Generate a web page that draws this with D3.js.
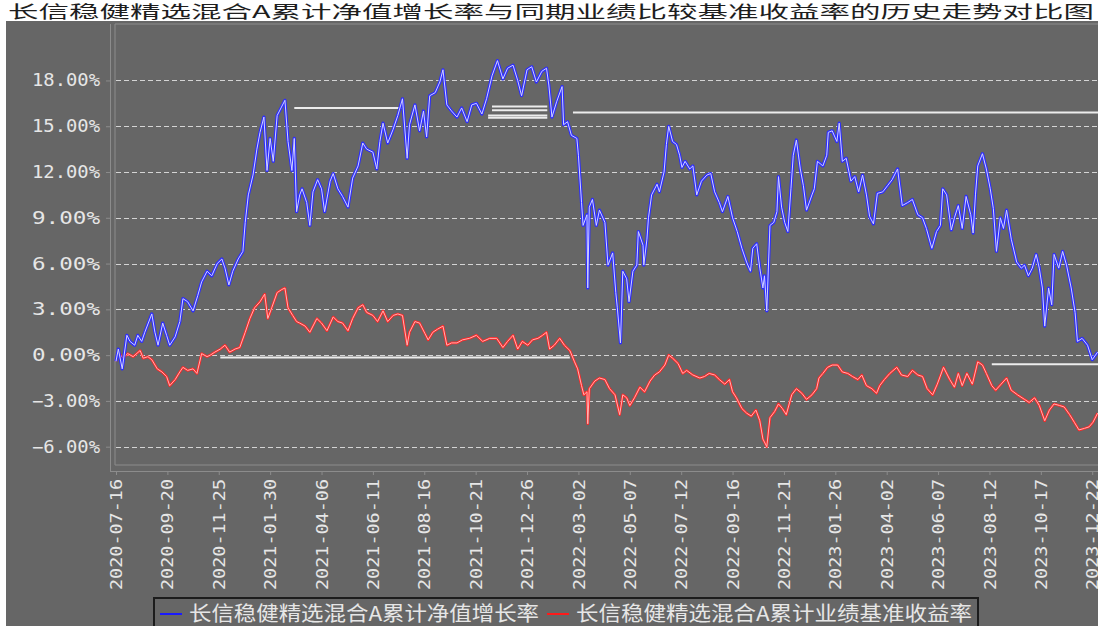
<!DOCTYPE html>
<html>
<head>
<meta charset="utf-8">
<script src="https://cdn.jsdelivr.net/npm/d3@7"></script>
<style>
  body { margin: 0; background: #fff; }
  svg { display: block; }
</style>
</head>
<body>
<svg id="chart" width="1098" height="626"></svg>
<script>
const titleText = "长信稳健精选混合A累计净值增长率与同期业绩比较基准收益率的历史走势对比图";
const seriesNames = ["长信稳健精选混合A累计净值增长率", "长信稳健精选混合A累计业绩基准收益率"];

const yTicks = [18, 15, 12, 9, 6, 3, 0, -3, -6];
const yTickLabels = ["18.00%", "15.00%", "12.00%", "9.00%", "6.00%", "3.00%", "0.00%", "−3.00%", "−6.00%"];
const xTickLabels = ["2020-07-16", "2020-09-20", "2020-11-25", "2021-01-30", "2021-04-06", "2021-06-11",
    "2021-08-16", "2021-10-21", "2021-12-26", "2022-03-02", "2022-05-07", "2022-07-12", "2022-09-16",
    "2022-11-21", "2023-01-26", "2023-04-02", "2023-06-07", "2023-08-12", "2023-10-17", "2023-12-22"];

// 累计净值增长率 (%)
const navGrowth = [["2020-07-16",-0.4],["2020-07-19",0.4],["2020-07-24",-0.9],["2020-07-30",1.3],["2020-08-03",0.9],["2020-08-09",0.65],["2020-08-13",1.3],["2020-08-18",0.9],["2020-08-22",1.5],["2020-08-31",2.7],["2020-09-04",1.5],["2020-09-08",0.65],["2020-09-14",2.1],["2020-09-19",1.3],["2020-09-23",0.65],["2020-09-30",1.2],["2020-10-06",2.2],["2020-10-10",3.7],["2020-10-16",3.5],["2020-10-23",2.9],["2020-10-29",3.9],["2020-11-03",4.8],["2020-11-10",5.5],["2020-11-16",5.2],["2020-11-23",6.0],["2020-11-29",6.3],["2020-12-03",5.7],["2020-12-08",4.6],["2020-12-13",5.5],["2020-12-20",6.3],["2020-12-26",6.8],["2020-12-29",8.7],["2021-01-02",10.5],["2021-01-08",11.8],["2021-01-13",13.5],["2021-01-17",14.6],["2021-01-22",15.6],["2021-01-26",12.1],["2021-01-30",14.2],["2021-02-03",12.7],["2021-02-08",15.7],["2021-02-13",16.2],["2021-02-18",16.7],["2021-02-22",14.0],["2021-02-27",12.1],["2021-03-02",14.2],["2021-03-05",9.4],["2021-03-09",10.5],["2021-03-12",10.9],["2021-03-16",10.3],["2021-03-18",10.0],["2021-03-22",8.5],["2021-03-26",10.7],["2021-04-01",11.5],["2021-04-06",10.9],["2021-04-10",9.4],["2021-04-17",11.4],["2021-04-21",11.9],["2021-04-27",10.9],["2021-05-03",10.4],["2021-05-10",9.7],["2021-05-16",11.6],["2021-05-23",12.4],["2021-05-29",13.9],["2021-06-03",13.5],["2021-06-11",13.3],["2021-06-16",12.2],["2021-06-20",14.0],["2021-06-24",15.2],["2021-06-30",13.9],["2021-07-07",14.8],["2021-07-13",15.7],["2021-07-19",16.8],["2021-07-25",12.9],["2021-07-28",15.1],["2021-08-04",16.4],["2021-08-10",14.7],["2021-08-15",16.0],["2021-08-19",14.3],["2021-08-23",17.0],["2021-08-30",17.2],["2021-09-05",17.9],["2021-09-09",18.7],["2021-09-14",16.4],["2021-09-20",16.0],["2021-09-27",15.6],["2021-10-03",16.2],["2021-10-10",15.3],["2021-10-16",16.4],["2021-10-22",16.5],["2021-10-29",15.8],["2021-11-04",16.8],["2021-11-11",18.3],["2021-11-18",19.3],["2021-11-25",18.1],["2021-12-01",18.8],["2021-12-08",19.0],["2021-12-14",18.0],["2021-12-19",17.0],["2021-12-26",18.7],["2022-01-01",18.9],["2022-01-07",17.9],["2022-01-14",18.6],["2022-01-20",18.8],["2022-01-23",17.7],["2022-01-27",15.6],["2022-02-02",16.6],["2022-02-09",17.6],["2022-02-11",15.1],["2022-02-16",15.3],["2022-02-21",14.4],["2022-02-28",14.2],["2022-03-02",13.1],["2022-03-06",10.0],["2022-03-08",8.5],["2022-03-13",9.2],["2022-03-14",4.4],["2022-03-16",9.7],["2022-03-20",10.2],["2022-03-25",8.5],["2022-03-29",9.5],["2022-04-05",8.7],["2022-04-09",5.9],["2022-04-15",6.7],["2022-04-19",4.1],["2022-04-21",3.1],["2022-04-25",0.8],["2022-04-28",5.5],["2022-05-03",5.0],["2022-05-06",3.5],["2022-05-11",5.5],["2022-05-16",5.9],["2022-05-18",8.1],["2022-05-24",7.2],["2022-05-25",5.9],["2022-05-29",7.6],["2022-05-31",9.0],["2022-06-04",10.5],["2022-06-11",11.2],["2022-06-14",10.7],["2022-06-20",12.0],["2022-06-23",13.8],["2022-06-26",15.0],["2022-07-01",14.0],["2022-07-06",13.8],["2022-07-10",13.1],["2022-07-13",12.3],["2022-07-17",12.7],["2022-07-23",12.2],["2022-07-27",12.4],["2022-08-01",10.5],["2022-08-07",11.4],["2022-08-14",11.8],["2022-08-19",11.9],["2022-08-24",10.7],["2022-08-30",10.0],["2022-09-03",9.4],["2022-09-10",10.4],["2022-09-16",9.0],["2022-09-22",8.1],["2022-09-28",7.0],["2022-10-04",6.1],["2022-10-09",5.5],["2022-10-12",7.0],["2022-10-17",7.3],["2022-10-21",5.7],["2022-10-25",4.4],["2022-10-27",5.2],["2022-10-30",2.9],["2022-11-03",8.5],["2022-11-08",8.7],["2022-11-12",9.4],["2022-11-14",11.7],["2022-11-18",9.7],["2022-11-22",8.7],["2022-11-26",8.1],["2022-11-30",10.9],["2022-12-03",13.1],["2022-12-07",14.1],["2022-12-12",12.2],["2022-12-16",11.1],["2022-12-20",9.5],["2022-12-27",10.5],["2022-12-30",10.9],["2023-01-03",12.7],["2023-01-10",12.4],["2023-01-15",13.1],["2023-01-17",14.6],["2023-01-22",14.7],["2023-01-28",14.0],["2023-01-31",15.2],["2023-02-04",12.7],["2023-02-09",12.9],["2023-02-15",11.4],["2023-02-20",11.7],["2023-02-25",10.7],["2023-03-02",11.8],["2023-03-07",10.5],["2023-03-11",9.1],["2023-03-16",8.6],["2023-03-21",10.6],["2023-03-28",10.7],["2023-04-03",11.1],["2023-04-09",11.5],["2023-04-16",12.2],["2023-04-22",9.8],["2023-04-29",10.0],["2023-05-05",10.2],["2023-05-12",9.2],["2023-05-18",9.0],["2023-05-23",8.3],["2023-05-30",7.0],["2023-06-05",8.1],["2023-06-10",8.5],["2023-06-13",10.9],["2023-06-18",10.5],["2023-06-24",8.2],["2023-06-28",9.0],["2023-07-03",9.8],["2023-07-08",8.3],["2023-07-13",10.4],["2023-07-19",9.2],["2023-07-22",8.0],["2023-07-25",10.5],["2023-07-28",12.4],["2023-08-03",13.2],["2023-08-08",12.2],["2023-08-13",10.9],["2023-08-17",9.6],["2023-08-21",6.8],["2023-08-26",9.0],["2023-08-30",8.3],["2023-09-03",9.5],["2023-09-09",7.6],["2023-09-16",6.1],["2023-09-22",5.7],["2023-09-26",5.9],["2023-10-01",5.2],["2023-10-06",5.7],["2023-10-11",6.6],["2023-10-15",5.7],["2023-10-19",4.4],["2023-10-22",1.9],["2023-10-27",4.4],["2023-10-31",3.3],["2023-11-03",6.6],["2023-11-09",5.7],["2023-11-14",6.8],["2023-11-19",5.9],["2023-11-25",4.4],["2023-11-30",2.8],["2023-12-03",0.9],["2023-12-09",1.1],["2023-12-16",0.65],["2023-12-22",-0.3],["2023-12-29",0.2]];

// 业绩比较基准收益率 (%)
const benchmark = [["2020-07-16",-0.4],["2020-07-19",0.2],["2020-07-25",-0.2],["2020-07-31",0.1],["2020-08-07",-0.1],["2020-08-16",0.3],["2020-08-20",-0.2],["2020-08-26",-0.1],["2020-08-31",-0.3],["2020-09-07",-0.9],["2020-09-13",-1.1],["2020-09-19",-1.4],["2020-09-23",-2.0],["2020-09-30",-1.6],["2020-10-06",-1.1],["2020-10-10",-0.8],["2020-10-16",-1.0],["2020-10-23",-0.9],["2020-10-28",-1.2],["2020-11-03",0.1],["2020-11-10",-0.1],["2020-11-14",0.0],["2020-11-20",0.2],["2020-11-27",0.4],["2020-12-03",0.65],["2020-12-09",0.2],["2020-12-16",0.4],["2020-12-22",0.5],["2020-12-29",1.5],["2021-01-04",2.4],["2021-01-10",3.1],["2021-01-17",3.5],["2021-01-23",4.0],["2021-01-27",2.4],["2021-02-01",3.1],["2021-02-08",4.1],["2021-02-14",4.3],["2021-02-18",4.4],["2021-02-22",3.1],["2021-02-28",2.6],["2021-03-05",2.2],["2021-03-09",2.1],["2021-03-16",1.9],["2021-03-22",1.5],["2021-03-31",2.4],["2021-04-06",2.1],["2021-04-13",1.6],["2021-04-21",2.5],["2021-04-27",2.2],["2021-05-03",2.1],["2021-05-10",1.6],["2021-05-16",2.4],["2021-05-23",3.1],["2021-05-29",3.3],["2021-06-03",2.8],["2021-06-11",2.6],["2021-06-17",2.2],["2021-06-24",2.9],["2021-06-30",2.2],["2021-07-07",2.6],["2021-07-13",2.7],["2021-07-19",2.6],["2021-07-25",0.65],["2021-07-28",1.5],["2021-08-04",2.2],["2021-08-10",2.1],["2021-08-17",1.4],["2021-08-21",1.0],["2021-08-27",1.5],["2021-09-02",1.7],["2021-09-09",1.9],["2021-09-14",0.65],["2021-09-20",0.8],["2021-09-27",0.8],["2021-10-04",1.0],["2021-10-13",1.1],["2021-10-22",1.3],["2021-10-30",0.9],["2021-11-08",1.1],["2021-11-17",1.1],["2021-11-25",0.5],["2021-12-01",0.9],["2021-12-08",1.3],["2021-12-14",0.4],["2021-12-20",0.9],["2021-12-27",0.65],["2022-01-02",1.0],["2022-01-09",1.1],["2022-01-15",1.3],["2022-01-20",1.5],["2022-01-24",0.4],["2022-01-30",0.65],["2022-02-06",1.1],["2022-02-12",0.65],["2022-02-19",0.3],["2022-02-25",-0.44],["2022-03-01",-0.9],["2022-03-06",-2.0],["2022-03-09",-2.6],["2022-03-13",-2.4],["2022-03-14",-4.5],["2022-03-16",-2.2],["2022-03-23",-1.7],["2022-03-29",-1.5],["2022-04-05",-1.6],["2022-04-11",-2.2],["2022-04-18",-2.6],["2022-04-24",-3.9],["2022-04-28",-2.6],["2022-05-03",-2.8],["2022-05-07",-3.3],["2022-05-13",-2.8],["2022-05-20",-2.1],["2022-05-26",-2.4],["2022-06-02",-1.7],["2022-06-08",-1.3],["2022-06-14",-1.1],["2022-06-21",-0.65],["2022-06-26",0.0],["2022-07-01",-0.2],["2022-07-08",-0.55],["2022-07-14",-1.2],["2022-07-19",-1.0],["2022-07-27",-1.3],["2022-08-05",-1.5],["2022-08-11",-1.4],["2022-08-17",-1.2],["2022-08-24",-1.3],["2022-08-30",-1.6],["2022-09-06",-1.9],["2022-09-12",-1.6],["2022-09-16",-2.4],["2022-09-21",-2.8],["2022-09-28",-3.5],["2022-10-04",-3.8],["2022-10-10",-4.0],["2022-10-16",-3.6],["2022-10-21",-4.3],["2022-10-25",-5.5],["2022-10-30",-6.0],["2022-11-03",-4.1],["2022-11-09",-3.7],["2022-11-14",-3.2],["2022-11-19",-3.5],["2022-11-24",-3.9],["2022-12-01",-2.6],["2022-12-07",-2.2],["2022-12-14",-2.5],["2022-12-20",-2.9],["2022-12-27",-2.6],["2023-01-02",-2.2],["2023-01-05",-1.5],["2023-01-10",-1.2],["2023-01-16",-0.8],["2023-01-22",-0.65],["2023-01-29",-0.65],["2023-02-04",-1.1],["2023-02-11",-1.2],["2023-02-17",-1.4],["2023-02-24",-1.6],["2023-03-01",-1.3],["2023-03-07",-2.0],["2023-03-14",-2.2],["2023-03-20",-2.5],["2023-03-24",-2.0],["2023-03-30",-1.6],["2023-04-06",-1.2],["2023-04-15",-0.8],["2023-04-21",-1.3],["2023-04-29",-1.4],["2023-05-05",-1.0],["2023-05-12",-1.3],["2023-05-18",-1.4],["2023-05-24",-2.2],["2023-05-31",-2.6],["2023-06-06",-1.9],["2023-06-14",-0.8],["2023-06-22",-1.6],["2023-06-28",-2.1],["2023-07-03",-1.2],["2023-07-08",-2.0],["2023-07-14",-1.2],["2023-07-21",-1.9],["2023-07-28",-0.44],["2023-08-03",-0.65],["2023-08-08",-1.2],["2023-08-15",-2.0],["2023-08-20",-2.3],["2023-08-27",-1.9],["2023-09-03",-1.5],["2023-09-09",-2.3],["2023-09-17",-2.6],["2023-09-26",-2.9],["2023-10-02",-3.1],["2023-10-09",-2.8],["2023-10-15",-3.3],["2023-10-22",-4.3],["2023-10-28",-3.6],["2023-11-03",-3.2],["2023-11-10",-3.3],["2023-11-16",-3.4],["2023-11-23",-3.9],["2023-11-29",-4.4],["2023-12-05",-4.9],["2023-12-12",-4.8],["2023-12-18",-4.7],["2023-12-23",-4.4],["2023-12-29",-3.8]];

// flat white segments visible in the picture: [from, to, level %]
const flatLines = [
    ["2021-03-02", "2021-07-18", 16.2],
    ["2021-11-11", "2022-01-21", 16.3],
    ["2021-11-11", "2022-01-21", 16.05],
    ["2021-11-06", "2022-01-21", 15.7],
    ["2021-11-06", "2022-01-21", 15.55],
    ["2022-02-23", "2024-01-05", 15.9],
    ["2020-11-27", "2022-02-19", -0.16],
    ["2023-08-15", "2024-01-05", -0.6]
];

const parseDate = d3.timeParse("%Y-%m-%d");
const svg = d3.select("#chart");
const W = 1098, H = 626;

const plotLeft = 116, plotRight = 1100, plotTop = 24, plotBottom = 465;

const x = d3.scaleTime()
    .domain([parseDate("2020-07-16"), parseDate("2024-01-01")])
    .range([plotLeft, plotRight]);
const y = d3.scaleLinear()
    .domain([-7.2, 21.7])
    .range([plotBottom, plotTop]);

// backgrounds
svg.append("rect").attr("width", W).attr("height", H).attr("fill", "#fff");
svg.append("rect").attr("x", 6).attr("y", 21).attr("width", W - 6).attr("height", H - 21).attr("fill", "#666666");

// title
svg.append("text")
    .attr("x", 8).attr("y", 18)
    .attr("font-family", "'Noto Sans CJK SC', sans-serif")
    .attr("font-size", 17)
    .attr("fill", "#1e1e1e")
    .attr("textLength", 1086)
    .attr("lengthAdjust", "spacingAndGlyphs")
    .text(titleText);

// plot frame
const frame = svg.append("g").attr("stroke", "#8c8c8c").attr("fill", "none");
frame.append("line").attr("x1", plotLeft - 1).attr("x2", plotLeft - 1).attr("y1", plotTop).attr("y2", plotBottom);
frame.append("line").attr("x1", plotLeft - 1).attr("x2", W).attr("y1", plotBottom).attr("y2", plotBottom);
frame.append("line").attr("x1", plotLeft - 1).attr("x2", W).attr("y1", plotTop).attr("y2", plotTop);

// grid lines
svg.append("g")
    .selectAll("line")
    .data(yTicks)
    .join("line")
    .attr("x1", plotLeft).attr("x2", W)
    .attr("y1", d => Math.round(y(d)) + 0.5).attr("y2", d => Math.round(y(d)) + 0.5)
    .attr("stroke", "#d4d4d4")
    .attr("stroke-dasharray", "5,3");

// y axis
const yAxis = d3.axisLeft(y)
    .tickValues(yTicks)
    .tickFormat((d, i) => yTickLabels[i])
    .tickSize(4)
    .tickPadding(6);
const yAxisG = svg.append("g").attr("transform", "translate(110,0)").call(yAxis);
yAxisG.select(".domain").attr("stroke", "#8c8c8c").attr("d", `M0.5,${plotTop}V471`);
yAxisG.selectAll(".tick line").attr("stroke", "#8c8c8c");
yAxisG.selectAll(".tick text")
    .attr("fill", "#e6e6e6")
    .attr("font-family", "'DejaVu Sans Mono', monospace")
    .attr("font-size", 17)
    .attr("textLength", 68)
    .attr("lengthAdjust", "spacingAndGlyphs");

// x axis
const xTickDates = xTickLabels.map(parseDate);
const xAxis = d3.axisBottom(x)
    .tickValues(xTickDates)
    .tickFormat((d, i) => xTickLabels[i])
    .tickSize(4);
const xAxisG = svg.append("g").attr("transform", "translate(0,471)").call(xAxis);
xAxisG.select(".domain").attr("stroke", "#8c8c8c").attr("d", `M110,0.5H${W}`);
xAxisG.selectAll(".tick line").attr("stroke", "#8c8c8c");
xAxisG.selectAll(".tick text")
    .attr("fill", "#e6e6e6")
    .attr("font-family", "'DejaVu Sans Mono', monospace")
    .attr("font-size", 16)
    .attr("transform", "translate(0,8) rotate(-90)")
    .attr("x", 0).attr("y", 0).attr("dy", "0.35em")
    .attr("text-anchor", "end")
    .attr("textLength", 111)
    .attr("lengthAdjust", "spacingAndGlyphs");

// flat white segments
svg.append("g")
    .selectAll("line")
    .data(flatLines)
    .join("line")
    .attr("x1", d => x(parseDate(d[0]))).attr("x2", d => x(parseDate(d[1])))
    .attr("y1", d => y(d[2])).attr("y2", d => y(d[2]))
    .attr("stroke", "#ececec")
    .attr("stroke-width", 2);

// series lines
const line = d3.line()
    .x(d => x(parseDate(d[0])))
    .y(d => y(d[1]));

const series = [
    { data: benchmark, outer: "#ff2626", inner: "#ffb4b4", w: 2.6 },
    { data: navGrowth, outer: "#2d2dff", inner: "#d2d2ff", w: 3.2 }
];
series.forEach(s => {
    svg.append("path").datum(s.data)
        .attr("d", line).attr("fill", "none")
        .attr("stroke", s.outer).attr("stroke-width", s.w)
        .attr("stroke-linejoin", "round");
    svg.append("path").datum(s.data)
        .attr("d", line).attr("fill", "none")
        .attr("stroke", s.inner).attr("stroke-width", 1)
        .attr("stroke-linejoin", "round");
});

// legend
const legend = svg.append("g");
legend.append("rect")
    .attr("x", 154).attr("y", 598).attr("width", 824).attr("height", 40)
    .attr("fill", "none").attr("stroke", "#1c1c1c").attr("stroke-width", 2);
const legendItems = [
    { name: seriesNames[0], color: "#1a1aff", x: 160, len: 350 },
    { name: seriesNames[1], color: "#ff1a1a", x: 547, len: 396 }
];
legendItems.forEach(it => {
    legend.append("line")
        .attr("x1", it.x).attr("x2", it.x + 22)
        .attr("y1", 614).attr("y2", 614)
        .attr("stroke", it.color).attr("stroke-width", 2);
    legend.append("text")
        .attr("x", it.x + 29).attr("y", 621)
        .attr("font-family", "'Noto Sans CJK SC', sans-serif")
        .attr("font-size", 20)
        .attr("fill", "#e6e6e6")
        .attr("textLength", it.len)
        .attr("lengthAdjust", "spacingAndGlyphs")
        .text(it.name);
});
</script>
</body>
</html>
